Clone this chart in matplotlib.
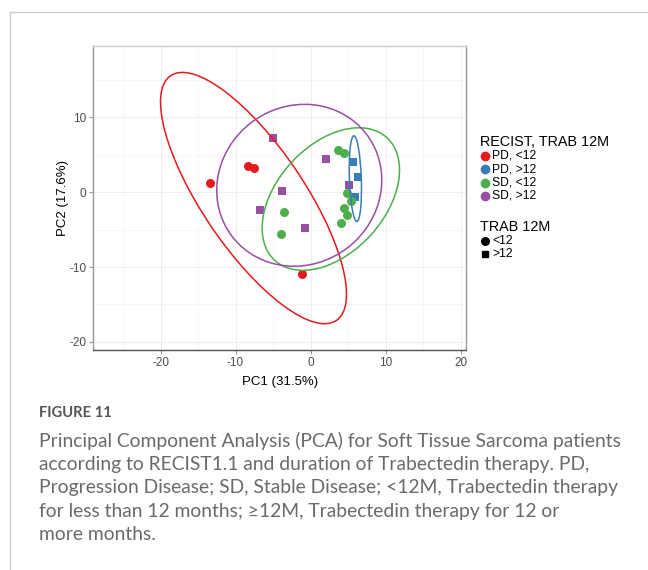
#!/usr/bin/env python3
"""PCA scatter of STS patients by RECIST response and trabectedin duration."""
import matplotlib
matplotlib.use("Agg")
import matplotlib.pyplot as plt
from matplotlib.lines import Line2D
from matplotlib.patches import Ellipse
from matplotlib.ticker import MultipleLocator

# ---------------------------------------------------------------------------
# Data
# ---------------------------------------------------------------------------
GROUPS = ["PD, <12", "PD, >12", "SD, <12", "SD, >12"]
COLORS = ["#E41A1C", "#377EB8", "#4DAF4A", "#984EA3"]
MARKERS = ["o", "s", "o", "s"]

pc1_pd_lt12 = [-13.4, -8.3, -7.6, -1.1]
pc2_pd_lt12 = [1.2, 3.5, 3.2, -10.9]
pc1_pd_gt12 = [5.7, 6.3, 5.9]
pc2_pd_gt12 = [4.1, 2.0, -0.6]
pc1_sd_lt12 = [3.6, 4.4, 4.8, 5.4, 4.4, 4.9, 4.0, -3.6, -4.0]
pc2_sd_lt12 = [5.6, 5.2, -0.1, -1.2, -2.1, -3.1, -4.1, -2.7, -5.6]
pc1_sd_gt12 = [-5.0, 2.0, -3.8, -6.7, -0.8, 5.1]
pc2_sd_gt12 = [7.3, 4.4, 0.2, -2.4, -4.8, 1.0]

PC1 = [pc1_pd_lt12, pc1_pd_gt12, pc1_sd_lt12, pc1_sd_gt12]
PC2 = [pc2_pd_lt12, pc2_pd_gt12, pc2_sd_lt12, pc2_sd_gt12]

# 95% confidence ellipses (centre, semi-axes, rotation in degrees)
ell_cx = [-7.6, 5.98, 2.71, -1.5]
ell_cy = [-0.78, 1.82, -0.91, 0.93]
ell_a = [19.75, 5.73, 11.1, 11.27]
ell_b = [6.8, 0.79, 7.18, 10.55]
ell_angle = [124, 92, 47.8, 38]

TRAB_LABELS = ["<12", ">12"]
TRAB_MARKERS = ["o", "s"]

CAPTION = (
    "Principal Component Analysis (PCA) for Soft Tissue Sarcoma patients\n"
    "according to RECIST1.1 and duration of Trabectedin therapy. PD,\n"
    "Progression Disease; SD, Stable Disease; <12M, Trabectedin therapy\n"
    "for less than 12 months; \u226512M, Trabectedin therapy for 12 or\n"
    "more months."
)

# ---------------------------------------------------------------------------
# Figure
# ---------------------------------------------------------------------------
W, H = 648, 570


def fx(px):
    return px / W


def fy(py):
    return 1 - py / H


plt.rcParams["font.family"] = ["Liberation Sans", "DejaVu Sans"]
plt.rcParams["axes.unicode_minus"] = False

fig = plt.figure(figsize=(W / 100, H / 100), dpi=100)

# outer panel frame
fig.add_artist(Line2D([fx(9.5), fx(9.5)], [fy(11.5), 0], color="#cccccc", lw=1.0))
fig.add_artist(Line2D([fx(9.5), 1], [fy(11.5), fy(11.5)], color="#cccccc", lw=1.0))

ax = fig.add_axes([fx(93.3), fy(350), fx(466) - fx(93.3), fy(45.7) - fy(350)])
ax.set_xlim(-28.96, 20.73)
ax.set_ylim(-21.1, 19.6)

ax.xaxis.set_major_locator(MultipleLocator(10))
ax.yaxis.set_major_locator(MultipleLocator(10))
ax.xaxis.set_minor_locator(MultipleLocator(5))
ax.yaxis.set_minor_locator(MultipleLocator(5))
ax.grid(which="major", color="#ebebeb", lw=0.6)
ax.grid(which="minor", color="#f3f3f3", lw=0.5)
ax.set_axisbelow(True)
ax.tick_params(which="minor", length=0)
ax.tick_params(which="major", length=3, width=0.8, color="#999999",
               labelcolor="#4d4d4d", labelsize=8.5, pad=2)

for side, col in [("top", "#cccccc"), ("left", "#999999"),
                  ("right", "#999999"), ("bottom", "#555555")]:
    ax.spines[side].set_color(col)
    ax.spines[side].set_linewidth(1.0)

for i in range(len(GROUPS)):
    ax.scatter(PC1[i], PC2[i], s=42 if MARKERS[i] == "o" else 38,
               marker=MARKERS[i], color=COLORS[i], lw=0, zorder=3)

for i in range(len(GROUPS)):
    ax.add_patch(Ellipse((ell_cx[i], ell_cy[i]), 2 * ell_a[i], 2 * ell_b[i],
                         angle=ell_angle[i], fill=False, ec=COLORS[i],
                         lw=1.1, zorder=4))

ax.set_xlabel("PC1 (31.5%)", fontsize=9.5, color="#000000", labelpad=5)
ax.set_ylabel("PC2 (17.6%)", fontsize=9.5, color="#000000", labelpad=0)

# legends
fig.text(fx(480), fy(142), "RECIST, TRAB 12M", fontsize=10.4, va="center", ha="left")
for i, lab in enumerate(GROUPS):
    yy = fy(155.5 + i * 13.5)
    fig.add_artist(Line2D([fx(485)], [yy], marker="o", ms=6, color=COLORS[i], lw=0))
    fig.text(fx(492.5), yy, lab, fontsize=8.7, va="center", ha="left")

fig.text(fx(480), fy(227), "TRAB 12M", fontsize=10.4, va="center", ha="left")
for i, lab in enumerate(TRAB_LABELS):
    yy = fy(240.5 + i * 13.5)
    fig.add_artist(Line2D([fx(485)], [yy], marker=TRAB_MARKERS[i],
                          ms=5.5 if TRAB_MARKERS[i] == "o" else 5, color="black", lw=0))
    fig.text(fx(492.5), yy, lab, fontsize=8.7, va="center", ha="left")

# caption
fig.text(fx(39), fy(413), "FIGURE 11", fontsize=10.6, fontweight="bold",
         color="#555555", family=["Lato", "DejaVu Sans"], va="center", ha="left")
fig.text(fx(39), fy(431.5), CAPTION, fontsize=13.9, color="#6a6a6a",
         family=["Lato", "DejaVu Sans"], va="top", ha="left", linespacing=1.46)

fig.savefig("out.png", dpi=100)
